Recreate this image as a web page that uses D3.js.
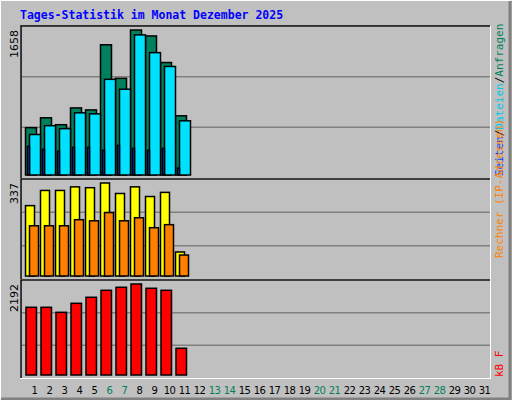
<!DOCTYPE html><html><head><meta charset="utf-8"><script src="https://cdn.jsdelivr.net/npm/d3@7"></script>
<style>body{margin:0}</style></head><body><svg width="512" height="400"></svg><script>
const days=d3.range(1,32).map(String);
const weekend=["6","7","13","14","20","21","27","28"];
const anfragen=[541,654,575,767,744,1489,1105,1658,1590,1286,677];
const dateien=[463,564,530,711,699,1094,981,1602,1399,1241,620];
const seiten=[327,293,271,316,316,282,338,305,282,305,79];
const besuche=[255,310,310,323,320,337,299,323,288,303,87];
const rechner=[182,182,182,204,200,230,200,211,175,186,76];
const kbytes=[1631,1631,1510,1727,1872,2040,2113,2192,2089,2040,643];
const svg=d3.select("svg");
svg.append("rect").attr("width",512).attr("height",400).attr("fill","#c0c0c0");
svg.append("path").attr("d","M0.5,399.5V0.5H511.5").attr("stroke","#fff").attr("fill","none");
svg.append("path").attr("d","M1,399H510V1").attr("stroke","#808080").attr("stroke-width",3).attr("fill","none");
svg.append("text").attr("x",20).attr("y",19).attr("fill","#0000ff").attr("font-family","DejaVu Sans Mono").attr("font-weight","bold").attr("font-size",11.5).text("Tages-Statistik im Monat Dezember 2025");
const x=d3.scaleBand().domain(days).range([25,490]);
function panel(y0,y1,max,series){
  svg.append("rect").attr("x",20.5).attr("y",y0+0.5).attr("width",470).attr("height",y1-y0).attr("fill","none").attr("stroke","#fff");
  svg.append("path").attr("d",`M21,${y1}V${y0}H490`).attr("stroke","#000").attr("stroke-width",1.5).attr("fill","none");
  const h=y1-y0;
  [1,2].forEach(i=>svg.append("line").attr("x1",22).attr("x2",490).attr("y1",y0+h*i/3).attr("y2",y0+h*i/3).attr("stroke","#808080").attr("stroke-width",1.5));
  const base=y1-3;
  const y=d3.scaleLinear().domain([0,max]).range([base,y0+4]);
  series.forEach(s=>{
    svg.append("g").selectAll("rect").data(s.v).join("rect")
     .attr("x",(d,i)=>x(days[i])+s.off).attr("width",s.w)
     .attr("y",d=>y(d)).attr("height",d=>base-y(d))
     .attr("fill",s.c).attr("stroke","#000").attr("stroke-width",1.5);
  });
  svg.append("text").attr("transform",`translate(18,${y0+4}) rotate(-90)`).attr("text-anchor","end")
    .attr("font-family","DejaVu Sans").attr("font-size",11).text(max);
}
function vlabel(yEnd,parts){
  const t=svg.append("text").attr("transform",`translate(503,${yEnd}) rotate(-90)`).attr("font-family","DejaVu Sans Mono").attr("font-size",11);
  parts.forEach(p=>t.append("tspan").attr("fill",p[1]).text(p[0]));
}
panel(26,178,1658,[{v:anfragen,c:"#00805c",off:0.5,w:11},{v:dateien,c:"#00e0ff",off:4.5,w:11},{v:seiten,c:"#0040ff",off:2.5,w:2}]);
vlabel(176,[["Seiten","#0040ff"],["/","#000"],["Dateien","#00c8e8"],["/","#000"],["Anfragen","#00805c"]]);
panel(179,279,337,[{v:besuche,c:"#ffff00",off:0.5,w:9},{v:rechner,c:"#ff8000",off:4.5,w:9}]);
vlabel(258,[["Rechner (IP-Adressen)","#ff8000"]]);
panel(280,378,2192,[{v:kbytes,c:"#ff0000",off:1,w:10.5}]);
vlabel(377,[["kB F","#ff0000"]]);
svg.append("g").selectAll("text").data(days).join("text").attr("x",d=>x(d)+x.bandwidth()/2+2).attr("y",394)
 .attr("text-anchor","middle").attr("font-family","DejaVu Sans").attr("font-size",10).attr("letter-spacing",-0.6)
 .attr("fill",d=>weekend.includes(d)?"#00805c":"#000").text(d=>d);
</script></body></html>
